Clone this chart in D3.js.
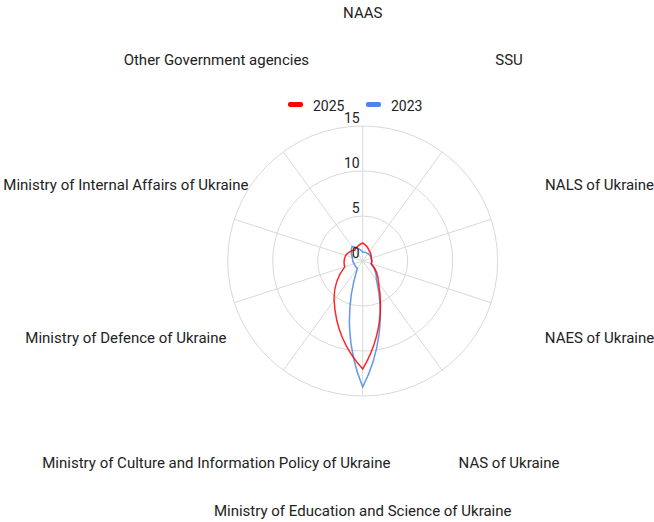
<!DOCTYPE html>
<html>
<head>
<meta charset="utf-8">
<script src="https://cdn.jsdelivr.net/npm/d3@7"></script>
<style>
  body { margin: 0; background: #fff; }
  text { font-family: Roboto, "Noto Sans", sans-serif; fill: #222; }
</style>
</head>
<body>
<div id="chart"></div>
<script>
// categories clockwise from the top
const categories = [
  "NAAS",
  "SSU",
  "NALS of Ukraine",
  "NAES of Ukraine",
  "NAS of Ukraine",
  "Ministry of Education and Science of Ukraine",
  "Ministry of Culture and Information Policy of Ukraine",
  "Ministry of Defence of Ukraine",
  "Ministry of Internal Affairs of Ukraine",
  "Other Government agencies"
];
const values2025 = [2, 1.3, 1, 1, 3, 12, 5.4, 2.1, 2, 1.5];
const values2023 = [1, 1, 1, 1, 2.6, 14, 1, 1, 1.2, 2];
const ticks = [0, 5, 10, 15];
const seriesNames = ["2025", "2023"];
const seriesColors = ["#ff0000", "#4a86e8"];

const width = 654, height = 522;
const cx = 362.7, cy = 261;
const outer = 135, labelRadius = 249;

const svg = d3.select("#chart").append("svg")
    .attr("width", width).attr("height", height);

const rScale = d3.scaleLinear().domain([0, 15]).range([0, outer]);
const angle = d3.scaleLinear().domain([0, categories.length]).range([0, 2 * Math.PI]);

const g = svg.append("g").attr("transform", "translate(" + cx + "," + cy + ")");

// grid rings
g.selectAll(".ring").data(ticks.filter(t => t > 0)).enter().append("circle")
    .attr("r", d => rScale(d))
    .attr("fill", "none").attr("stroke", "#d9d9d9").attr("stroke-width", 1);

// spokes
g.selectAll(".spoke").data(categories).enter().append("line")
    .attr("x1", 0).attr("y1", 0)
    .attr("x2", (d, i) => d3.pointRadial(angle(i), rScale(15))[0])
    .attr("y2", (d, i) => d3.pointRadial(angle(i), rScale(15))[1])
    .attr("stroke", "#d9d9d9").attr("stroke-width", 1);

// closed radar outline, every segment an outward bowed arc
const bow = 20 * Math.PI / 180;
function radarPath(vals) {
  const pts = vals.map((v, i) => d3.pointRadial(angle(i), rScale(v)));
  const p = d3.path();
  p.moveTo(pts[0][0], pts[0][1]);
  for (let i = 0; i < pts.length; i++) {
    const a = pts[i], b = pts[(i + 1) % pts.length];
    const dx = b[0] - a[0], dy = b[1] - a[1];
    const len = Math.hypot(dx, dy);
    const ux = dx / len, uy = dy / len;
    const nx = uy, ny = -ux;
    const h = (4 / 3) * Math.tan(bow / 2) * len / (2 * Math.sin(bow));
    const c = Math.cos(bow), s = Math.sin(bow);
    p.bezierCurveTo(
      a[0] + h * (c * ux + s * nx), a[1] + h * (c * uy + s * ny),
      b[0] - h * (c * ux - s * nx), b[1] - h * (c * uy - s * ny),
      b[0], b[1]);
  }
  p.closePath();
  return p.toString();
}

[values2023, values2025].forEach(function(vals, k) {
  g.append("path")
    .attr("d", radarPath(vals))
    .attr("fill", "none")
    .attr("stroke", k == 0 ? seriesColors[1] : seriesColors[0])
    .attr("stroke-width", 1.5)
    .attr("stroke-opacity", 0.85);
});

// tick labels
g.selectAll(".tick").data(ticks).enter().append("text")
    .attr("x", -3)
    .attr("y", d => -rScale(d) - 3.5)
    .attr("text-anchor", "end")
    .style("font-size", "14px")
    .text(d => d);

// category labels
g.selectAll(".cat").data(categories).enter().append("text")
    .attr("x", (d, i) => d3.pointRadial(angle(i), labelRadius)[0])
    .attr("y", (d, i) => d3.pointRadial(angle(i), labelRadius)[1] + 5.5)
    .attr("text-anchor", "middle")
    .style("font-size", "15px")
    .text(d => d);

// legend
const legend = svg.append("g");
const legendX = [288, 366];
seriesNames.forEach(function(name, i) {
  legend.append("rect")
    .attr("x", legendX[i]).attr("y", 102)
    .attr("width", 15).attr("height", 5).attr("rx", 2)
    .attr("fill", seriesColors[i]);
  legend.append("text")
    .attr("x", legendX[i] + 25).attr("y", 111)
    .style("font-size", "14px")
    .text(name);
});
</script>
</body>
</html>
